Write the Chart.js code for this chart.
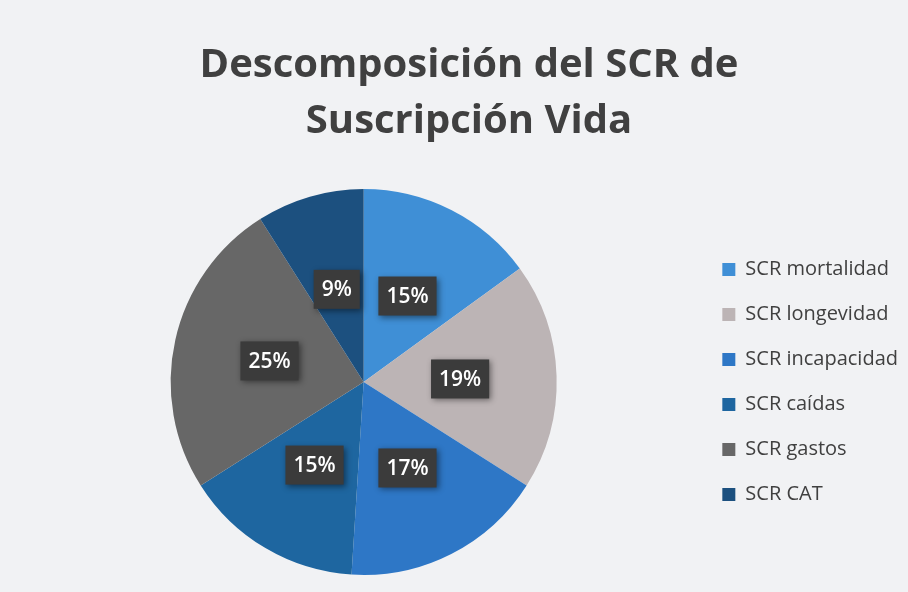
<!DOCTYPE html>
<html>
<head>
<meta charset="utf-8">
<script src="https://cdn.jsdelivr.net/npm/chart.js@4/dist/chart.umd.min.js"></script>
<style>
  html, body { margin: 0; padding: 0; background: #f1f2f4; }
  #wrap { width: 908px; height: 592px; }
</style>
</head>
<body>
<div id="wrap"><canvas id="c" width="908" height="592"></canvas></div>
<script>
const categories = ["SCR mortalidad", "SCR longevidad", "SCR incapacidad", "SCR caídas", "SCR gastos", "SCR CAT"];
const values = [15, 19, 17, 15, 25, 9];
const colors = ["#3f8fd6", "#bcb4b5", "#2e77c6", "#1e66a0", "#676767", "#1c507f"];
const titleLines = ["Descomposición del SCR de", "Suscripción Vida"];

const labelBoxes = {
  id: 'labelBoxes',
  afterDatasetsDraw(chart) {
    const ctx = chart.ctx;
    const meta = chart.getDatasetMeta(0);
    ctx.save();
    ctx.font = '600 21px "Open Sans", sans-serif';
    ctx.textAlign = 'center';
    ctx.textBaseline = 'middle';
    meta.data.forEach((arc, i) => {
      const p = arc.getCenterPoint();
      const txt = values[i] + '%';
      const w = ctx.measureText(txt).width + 16;
      const h = 39;
      ctx.shadowColor = 'rgba(0,0,0,0.45)';
      ctx.shadowBlur = 6;
      ctx.shadowOffsetX = 2;
      ctx.shadowOffsetY = 2;
      ctx.fillStyle = '#3b3b3b';
      ctx.fillRect(p.x - w / 2, p.y - h / 2, w, h);
      ctx.shadowColor = 'transparent';
      ctx.fillStyle = '#ffffff';
      ctx.fillText(txt, p.x, p.y + 1);
    });
    ctx.restore();
  }
};

new Chart(document.getElementById('c'), {
  type: 'pie',
  data: {
    labels: categories,
    datasets: [{
      data: values,
      backgroundColor: colors,
      borderWidth: 0
    }]
  },
  options: {
    responsive: false,
    animation: false,
    layout: { padding: { top: 3, left: 30, right: 0, bottom: 17 } },
    plugins: {
      title: {
        display: true,
        text: titleLines,
        color: '#404040',
        font: { family: '"Open Sans", sans-serif', size: 40, weight: 'bold', lineHeight: 1.4 },
        padding: { top: 35, bottom: 39 }
      },
      legend: {
        position: 'right',
        fullSize: false,
        labels: {
          color: '#404040',
          font: { family: '"Open Sans", sans-serif', size: 20 },
          boxWidth: 13,
          boxHeight: 13,
          padding: 25
        }
      },
      tooltip: { enabled: false }
    }
  },
  plugins: [labelBoxes]
});
</script>
</body>
</html>
